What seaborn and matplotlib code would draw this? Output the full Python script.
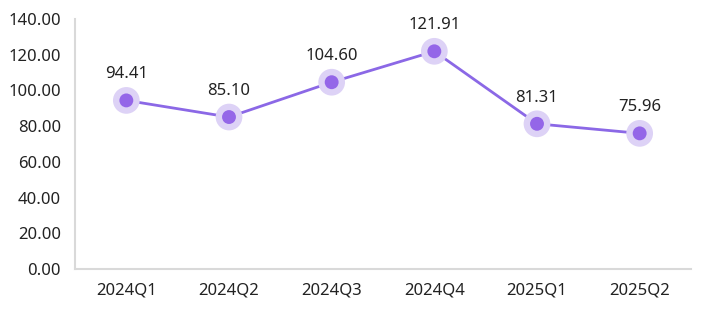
import matplotlib
matplotlib.use("Agg")
import matplotlib.pyplot as plt
import seaborn as sns
import pandas as pd

categories = ["2024Q1", "2024Q2", "2024Q3", "2024Q4", "2025Q1", "2025Q2"]
values = [94.41, 85.10, 104.60, 121.91, 81.31, 75.96]
yticks = [0, 20, 40, 60, 80, 100, 120, 140]

sns.set_theme(style="white")
plt.rcParams["font.family"] = ["Noto Sans", "DejaVu Sans"]

df = pd.DataFrame({"q": categories, "v": values})

fig = plt.figure(figsize=(7.03, 3.10), dpi=100)
ax = fig.add_axes([75/703, 1-269/310, (691-75)/703, (269-19)/310])

line_c = "#8B68E6"
sns.lineplot(data=df, x="q", y="v", ax=ax, color=line_c, linewidth=2.0, sort=False)
sns.scatterplot(data=df, x="q", y="v", ax=ax, s=370, color="#DDD2F6", edgecolor="none", zorder=3)
sns.scatterplot(data=df, x="q", y="v", ax=ax, s=100, color="#9466E8", edgecolor="none", zorder=4)

for i, v in enumerate(values):
    ax.annotate(f"{v:.2f}", (i, v), xytext=(0, 13), textcoords="offset points",
                ha="center", va="bottom", fontsize=12, color="#222222")

ax.set_xlim(-0.5, len(categories) - 0.5)
ax.set_ylim(0, 140)
ax.set_yticks(yticks)
ax.set_yticklabels([f"{t:.2f}" for t in yticks])
ax.set_xlabel("")
ax.set_ylabel("")
ax.tick_params(axis="both", length=0, labelsize=12, labelcolor="#222222")
ax.tick_params(axis="y", pad=10)
ax.tick_params(axis="x", pad=10)
for s in ["top", "right"]:
    ax.spines[s].set_visible(False)
for s in ["left", "bottom"]:
    ax.spines[s].set_color("#D9D9D9")
    ax.spines[s].set_linewidth(1.5)

fig.savefig("out.png", dpi=100)
